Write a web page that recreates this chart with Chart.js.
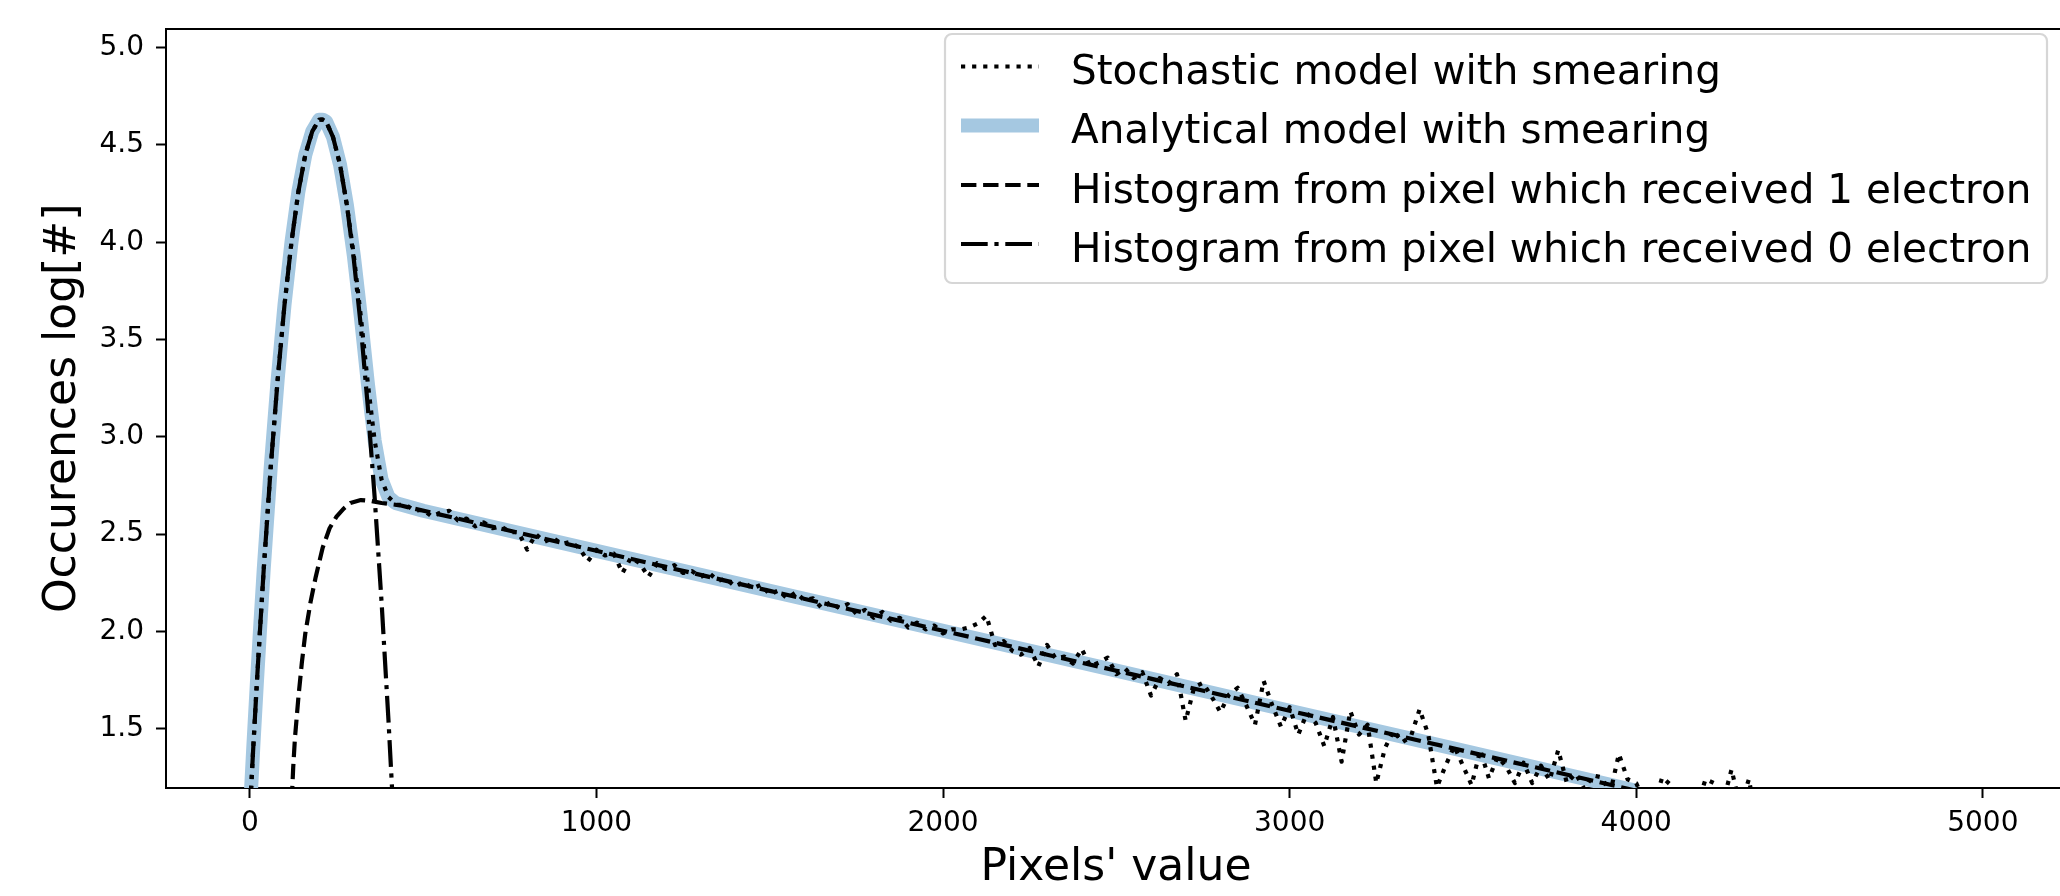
<!DOCTYPE html>
<html>
<head>
<meta charset="utf-8">
<title>Occurences log[#] vs pixels' value</title>
<script src="https://cdn.jsdelivr.net/npm/chart.js@4.4.1/dist/chart.umd.min.js"></script>
<style>
  html, body { margin: 0; padding: 0; background: #fff; overflow: hidden; }
  #wrap { width: 2066px; height: 896px; }
</style>
</head>
<body>
<div id="wrap"><canvas id="hist" width="2066" height="896"></canvas></div>
<script>
// ---- data (log10 of counts per pixel value) ----
const xTicks = [0, 1000, 2000, 3000, 4000, 5000];
const yTicks = [1.5, 2.0, 2.5, 3.0, 3.5, 4.0, 4.5, 5.0];

// pixels which received 0 electron (read-noise peak)
const zeroX = [0, 10, 20, 30, 40, 60, 80, 100, 120, 140, 160, 180, 200, 210, 220, 240, 260, 280, 300, 320, 340, 360, 380, 400, 420];
const zeroY = [1.07, 1.41, 1.73, 2.03, 2.32, 2.84, 3.29, 3.68, 4.00, 4.26, 4.45, 4.57, 4.63, 4.63, 4.62, 4.54, 4.40, 4.19, 3.91, 3.57, 3.16, 2.69, 2.15, 1.54, 0.86];

// pixels which received 1 electron
const oneX = [115, 125, 130, 140, 150, 160, 175, 190, 210, 230, 250, 270, 290, 320, 350, 380, 433, 1000, 1500, 2000, 2500, 3000, 3500, 4000];
const oneY = [0.90, 1.30, 1.45, 1.66, 1.84, 1.99, 2.15, 2.28, 2.43, 2.53, 2.59, 2.63, 2.66, 2.675, 2.67, 2.66, 2.648, 2.414, 2.208, 2.003, 1.798, 1.592, 1.387, 1.181];

// analytical model with smearing
const analyticX = [0, 10, 20, 30, 40, 60, 80, 100, 120, 140, 160, 180, 200, 210, 220, 240, 260, 280, 300, 320, 340, 360, 380, 400, 420, 500, 1000, 1500, 2000, 2500, 3000, 3500, 4000];
const analyticY = [1.07, 1.41, 1.73, 2.03, 2.32, 2.84, 3.29, 3.68, 4.00, 4.26, 4.45, 4.57, 4.63, 4.63, 4.62, 4.54, 4.40, 4.19, 3.93, 3.62, 3.28, 2.98, 2.78, 2.69, 2.66, 2.62, 2.414, 2.208, 2.003, 1.798, 1.592, 1.387, 1.181];

// stochastic model with smearing
const stochX = [0, 10, 20, 30, 40, 60, 80, 100, 120, 140, 160, 180, 200, 210, 220, 240, 260, 280, 300, 320, 340, 360, 380, 400,
  425, 450, 475, 500, 525, 550, 575, 600, 625, 650, 675, 700, 725, 750, 775, 800, 825, 850, 875, 900, 925, 950, 975, 1000,
  1025, 1050, 1075, 1100, 1125, 1150, 1175, 1200, 1225, 1250, 1275, 1300, 1325, 1350, 1375, 1400, 1425, 1450, 1475, 1500,
  1525, 1550, 1575, 1600, 1625, 1650, 1675, 1700, 1725, 1750, 1775, 1800, 1825, 1850, 1875, 1900, 1925, 1950, 1975, 2000,
  2025, 2050, 2075, 2100, 2125, 2150, 2175, 2200, 2225, 2250, 2275, 2300, 2325, 2350, 2375, 2400, 2425, 2450, 2475, 2500,
  2525, 2550, 2575, 2600, 2625, 2650, 2675, 2700, 2725, 2750, 2775, 2800, 2825, 2850, 2875, 2900, 2925, 2950, 2975, 3000,
  3025, 3050, 3075, 3100, 3125, 3150, 3175, 3200, 3225, 3250, 3275, 3300, 3325, 3350, 3375, 3400, 3425, 3450, 3475, 3500,
  3525, 3550, 3575, 3600, 3625, 3650, 3675, 3700, 3725, 3750, 3775, 3800, 3825, 3850, 3875, 3900, 3925, 3950, 3975, 4000,
  4025, 4050, 4075, 4100, 4125, 4150, 4175, 4200, 4225, 4250, 4275, 4300, 4325, 4350];
const stochY = [1.07, 1.41, 1.73, 2.03, 2.32, 2.84, 3.29, 3.68, 4.00, 4.26, 4.45, 4.57, 4.63, 4.63, 4.62, 4.54, 4.40, 4.19, 3.93, 3.62, 3.28, 2.98, 2.78, 2.69,
  2.65, 2.65, 2.62, 2.625, 2.59, 2.61, 2.62, 2.57, 2.58, 2.54, 2.56, 2.53, 2.54, 2.51, 2.51, 2.42, 2.50, 2.46, 2.48, 2.45, 2.46, 2.43, 2.36, 2.42,
  2.39, 2.40, 2.30, 2.38, 2.35, 2.28, 2.35, 2.32, 2.34, 2.30, 2.31, 2.28, 2.30, 2.26, 2.27, 2.23, 2.255, 2.22, 2.24, 2.19,
  2.21, 2.17, 2.20, 2.16, 2.17, 2.12, 2.15, 2.12, 2.14, 2.09, 2.11, 2.07, 2.10, 2.055, 2.07, 2.02, 2.045, 2.01, 2.03, 1.99,
  2.01, 2.01, 2.02, 2.04, 2.08, 1.93, 1.95, 1.90, 1.88, 1.915, 1.82, 1.93, 1.86, 1.87, 1.835, 1.91, 1.82, 1.84, 1.865, 1.78,
  1.81, 1.76, 1.79, 1.67, 1.76, 1.73, 1.78, 1.54, 1.715, 1.735, 1.665, 1.585, 1.675, 1.71, 1.62, 1.52, 1.745, 1.62, 1.51, 1.61,
  1.47, 1.58, 1.53, 1.41, 1.56, 1.33, 1.59, 1.47, 1.52, 1.22, 1.40, 1.49, 1.43, 1.46, 1.60, 1.47, 1.20, 1.31, 1.41, 1.31,
  1.21, 1.39, 1.245, 1.355, 1.305, 1.22, 1.325, 1.22, 1.31, 1.235, 1.39, 1.22, 1.27, 1.19, 1.26, 1.25, 1.17, 1.37, 1.24, 1.22,
  1.12, 1.10, 1.25, 1.21, 1.10, 1.05, 1.10, 1.24, 1.22, 1.12, 1.29, 1.10, 1.24, 1.00];

// ---- axis limits ----
const X_MIN = -242, X_MAX = 5240;
const Y_MIN = 1.195, Y_MAX = 5.097;

const FONT = "'DejaVu Sans', 'Liberation Sans', sans-serif";
Chart.defaults.font.family = FONT;
Chart.defaults.color = "#000";

const pts = (xs, ys) => xs.map((x, i) => ({ x, y: ys[i] }));

// Framed legend in the upper right, drawn from the dataset styles
const LEGEND = {
  left: 945, top: 34, right: 2047, bottom: 283,
  baselines: [84, 143, 202.5, 261.5],
  handleFrom: 961, handleTo: 1039, textX: 1071,
  font: "40.5px " + FONT
};

const legendFrame = {
  id: "legendFrame",
  afterDraw(chart) {
    const ctx = chart.ctx;
    const L = LEGEND;
    ctx.save();
    ctx.beginPath();
    ctx.roundRect(L.left, L.top, L.right - L.left, L.bottom - L.top, 7);
    ctx.fillStyle = "rgba(255,255,255,0.8)";
    ctx.fill();
    ctx.lineWidth = 2.2;
    ctx.strokeStyle = "#d6d6d6";
    ctx.stroke();

    chart.data.datasets.forEach((ds, i) => {
      const base = L.baselines[i];
      const hy = base - 17.5;
      ctx.beginPath();
      ctx.setLineDash(ds.borderDash || []);
      ctx.lineCap = "butt";
      ctx.lineWidth = ds.borderWidth;
      ctx.strokeStyle = ds.borderColor;
      ctx.moveTo(L.handleFrom, hy);
      ctx.lineTo(L.handleTo, hy);
      ctx.stroke();

      ctx.setLineDash([]);
      ctx.font = L.font;
      ctx.fillStyle = "#000";
      ctx.textBaseline = "alphabetic";
      ctx.textAlign = "left";
      ctx.fillText(ds.label, L.textX, base);
    });
    ctx.restore();
  }
};

const blackLine = {
  borderColor: "#000",
  borderWidth: 4.2,
  pointRadius: 0,
  tension: 0,
  fill: false,
  clip: 0,
  borderJoinStyle: "round",
  borderCapStyle: "butt"
};

new Chart(document.getElementById("hist"), {
  type: "line",
  data: {
    datasets: [
      Object.assign({}, blackLine, {
        label: "Stochastic model with smearing",
        data: pts(stochX, stochY),
        borderDash: [4.2, 6.9],
        order: 2
      }),
      {
        label: "Analytical model with smearing",
        data: pts(analyticX, analyticY),
        borderColor: "#a5c8e1",
        borderWidth: 14,
        pointRadius: 0,
        tension: 0,
        fill: false,
        clip: 0,
        borderJoinStyle: "round",
        borderCapStyle: "butt",
        order: 10
      },
      Object.assign({}, blackLine, {
        label: "Histogram from pixel which received 1 electron",
        data: pts(oneX, oneY),
        borderDash: [15.4, 6.7],
        order: 3
      }),
      Object.assign({}, blackLine, {
        label: "Histogram from pixel which received 0 electron",
        data: pts(zeroX, zeroY),
        borderDash: [26.7, 6.7, 4.2, 6.7],
        order: 1
      })
    ]
  },
  options: {
    responsive: false,
    animation: false,
    events: [],
    layout: { padding: { top: 14, left: 0, right: 0, bottom: 0 } },
    plugins: {
      legend: { display: false },
      tooltip: { enabled: false }
    },
    scales: {
      x: {
        type: "linear",
        position: "bottom",
        min: X_MIN,
        max: X_MAX,
        afterBuildTicks: (s) => { s.ticks = xTicks.map((v) => ({ value: v })); },
        afterFit: (s) => { s.height = 108; },
        grid: { display: true, drawOnChartArea: false, drawTicks: true, tickLength: 10, tickWidth: 2, tickColor: "#000" },
        border: { display: true, color: "#000", width: 2 },
        ticks: { color: "#000", font: { size: 28 }, padding: 9, maxRotation: 0, callback: (v) => String(v) },
        title: { display: true, text: "Pixels' value", color: "#000", font: { size: 44 }, padding: { top: 0, bottom: 1 } }
      },
      xTop: {
        type: "linear",
        position: "top",
        min: X_MIN,
        max: X_MAX,
        afterFit: (s) => { s.height = 0; },
        grid: { display: false, drawTicks: false },
        ticks: { display: false },
        border: { display: true, color: "#000", width: 2 }
      },
      y: {
        type: "linear",
        position: "left",
        min: Y_MIN,
        max: Y_MAX,
        afterBuildTicks: (s) => { s.ticks = yTicks.map((v) => ({ value: v })); },
        afterFit: (s) => { s.width = 166; },
        grid: { display: true, drawOnChartArea: false, drawTicks: true, tickLength: 10, tickWidth: 2, tickColor: "#000" },
        border: { display: true, color: "#000", width: 2 },
        ticks: { color: "#000", font: { size: 28 }, padding: 12, callback: (v) => v.toFixed(1) },
        title: { display: true, text: "Occurences log[#]", color: "#000", font: { size: 44 }, padding: { top: 37, bottom: 0 } }
      }
    }
  },
  plugins: [legendFrame]
});
</script>
</body>
</html>
